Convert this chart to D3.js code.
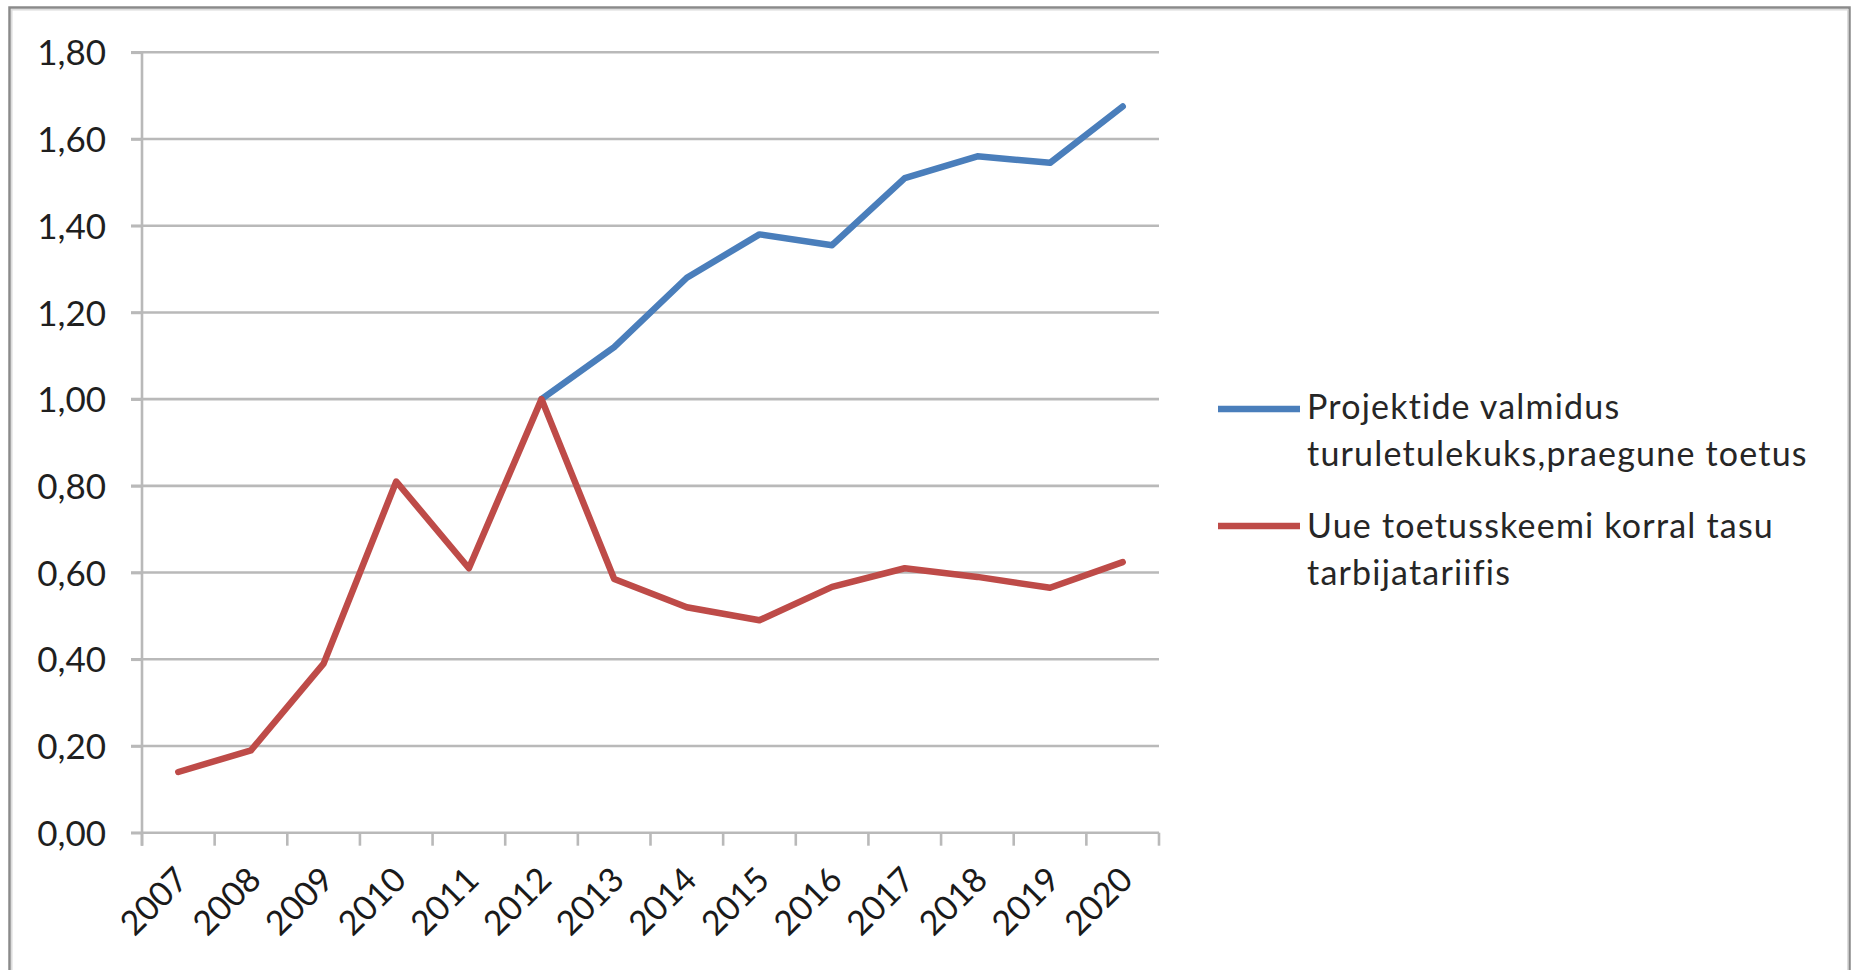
<!DOCTYPE html>
<html>
<head>
<meta charset="utf-8">
<script src="https://cdn.jsdelivr.net/npm/d3@7"></script>
<style>
  html, body { margin: 0; padding: 0; background: #fff; }
  svg { display: block; }
</style>
</head>
<body>
<svg id="chart" width="1853" height="970"></svg>
<script>
// Years on the category axis
const years = ["2007","2008","2009","2010","2011","2012","2013","2014","2015","2016","2017","2018","2019","2020"];

// Series 1: project readiness for market entry, current support (starts in 2012)
const seriesBlueName = ["Projektide valmidus", "turuletulekuks,praegune toetus"];
const seriesBlueYears = ["2012","2013","2014","2015","2016","2017","2018","2019","2020"];
const seriesBlue = [1.00, 1.12, 1.28, 1.38, 1.355, 1.51, 1.56, 1.545, 1.675];

// Series 2: fee in consumer tariff under the new support scheme
const seriesRedName = ["Uue toetusskeemi korral tasu", "tarbijatariifis"];
const seriesRed = [0.14, 0.19, 0.39, 0.81, 0.61, 1.00, 0.585, 0.52, 0.49, 0.567, 0.61, 0.59, 0.565, 0.624];

// Value axis ticks
const yTicks = [0, 0.2, 0.4, 0.6, 0.8, 1.0, 1.2, 1.4, 1.6, 1.8];

const svg = d3.select("#chart");
const W = 1853, H = 970;
const plot = { left: 142, right: 1159, top: 52.3, bottom: 832.7 };
const blueColor = "#4a7ebb", redColor = "#be4b48";
const gridColor = "#b9b9b9";
const fontFamily = "Lato, 'Open Sans', sans-serif";

const fmt = d3.formatLocale({ decimal: ",", thousands: " ", grouping: [3], currency: ["", ""] }).format(".2f");

const x = d3.scaleBand().domain(years).range([plot.left, plot.right]).padding(0);
const y = d3.scaleLinear().domain([0, 1.8]).range([plot.bottom, plot.top]);
const cx = d => x(d) + x.bandwidth() / 2;

// Outer chart frame
svg.append("rect").attr("x", 0).attr("y", 0).attr("width", W).attr("height", H).attr("fill", "#fff");
svg.append("rect")
  .attr("x", 9.5).attr("y", 7.5).attr("width", 1840).attr("height", 1000)
  .attr("fill", "none").attr("stroke", "#8a8a8a").attr("stroke-width", 2.5);
svg.append("rect")
  .attr("x", 11.8).attr("y", 9.8).attr("width", 1836).attr("height", 1000)
  .attr("fill", "none").attr("stroke", "#dcdcdc").attr("stroke-width", 1.5);

// Horizontal gridlines, extended left through the tick marks
const grid = svg.append("g");
grid.selectAll("line").data(yTicks.filter(v => v > 0)).join("line")
  .attr("x1", plot.left - 11).attr("x2", plot.right)
  .attr("y1", d => y(d)).attr("y2", d => y(d))
  .attr("stroke", gridColor).attr("stroke-width", 2.6);

// Value axis
const yAxis = svg.append("g")
  .attr("transform", `translate(${plot.left},0)`)
  .call(d3.axisLeft(y).tickValues(yTicks).tickFormat(fmt).tickSize(11).tickPadding(25));
yAxis.select(".domain").attr("stroke", gridColor).attr("stroke-width", 2.6)
  .attr("d", `M0,${plot.top}V${plot.bottom + 13}`);
yAxis.selectAll(".tick line").attr("stroke", gridColor).attr("stroke-width", 2.6);
yAxis.selectAll(".tick text")
  .attr("font-family", fontFamily).attr("font-size", 35).attr("fill", "#1f1f1f")
  .attr("dy", "0.36em");

// Category axis: line plus tick marks on the band boundaries
const xAxis = svg.append("g");
xAxis.append("line")
  .attr("x1", plot.left - 11).attr("x2", plot.right)
  .attr("y1", y(0)).attr("y2", y(0))
  .attr("stroke", gridColor).attr("stroke-width", 2.6);
const edges = years.map(d => x(d)).concat([x(years[years.length - 1]) + x.bandwidth()]);
xAxis.selectAll("line.tk").data(edges).join("line").attr("class", "tk")
  .attr("x1", d => d).attr("x2", d => d)
  .attr("y1", y(0)).attr("y2", y(0) + 13)
  .attr("stroke", gridColor).attr("stroke-width", 2.6);
xAxis.selectAll("text").data(years).join("text")
  .attr("transform", d => `translate(${cx(d) + 12},${y(0) + 49}) rotate(-45)`)
  .attr("text-anchor", "end")
  .attr("font-family", fontFamily).attr("font-size", 34).attr("fill", "#1a1a1a")
  .text(d => d);

// Lines
const line = d3.line().x(d => cx(d.year)).y(d => y(d.value));
const redData = years.map((yr, i) => ({ year: yr, value: seriesRed[i] }));
const blueData = seriesBlueYears.map((yr, i) => ({ year: yr, value: seriesBlue[i] }));

svg.append("path").datum(blueData)
  .attr("d", line).attr("fill", "none")
  .attr("stroke", blueColor).attr("stroke-width", 6.5)
  .attr("stroke-linejoin", "round").attr("stroke-linecap", "round");
svg.append("path").datum(redData)
  .attr("d", line).attr("fill", "none")
  .attr("stroke", redColor).attr("stroke-width", 6.5)
  .attr("stroke-linejoin", "round").attr("stroke-linecap", "round");

// Legend
const legend = svg.append("g");
const entries = [
  { color: blueColor, lines: seriesBlueName, sy: 409, ty: 419 },
  { color: redColor, lines: seriesRedName, sy: 526, ty: 538 }
];
entries.forEach(e => {
  legend.append("line")
    .attr("x1", 1218).attr("x2", 1300).attr("y1", e.sy).attr("y2", e.sy)
    .attr("stroke", e.color).attr("stroke-width", 6.5);
  const t = legend.append("text")
    .attr("x", 1307).attr("y", e.ty)
    .attr("font-family", fontFamily).attr("font-size", 34)
    .attr("letter-spacing", 1.2).attr("fill", "#262626");
  e.lines.forEach((l, i) => {
    t.append("tspan").attr("x", 1307).attr("dy", i === 0 ? 0 : 46.5).text(l);
  });
});
</script>
</body>
</html>
